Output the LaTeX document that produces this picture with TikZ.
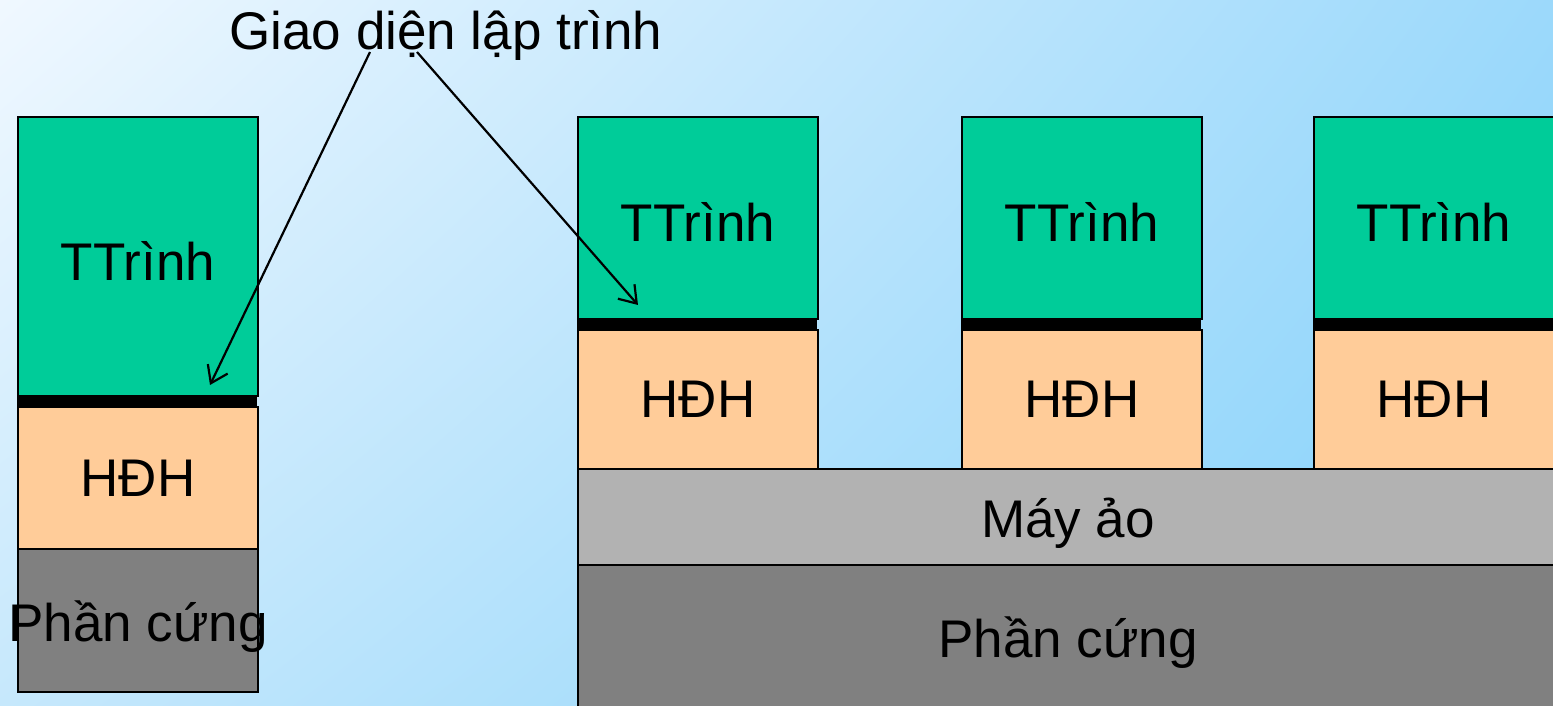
\documentclass[tikz,border=0pt]{standalone}
\usepackage{fontspec}
\setmainfont{Liberation Sans}
\usetikzlibrary{arrows.meta,shadings}
\definecolor{prog}{HTML}{00CC99}
\definecolor{os}{HTML}{FFCC99}
\definecolor{vm}{HTML}{B2B2B2}
\definecolor{hw}{HTML}{808080}
\definecolor{bgUL}{HTML}{F0F8FF}
\definecolor{bgUR}{HTML}{9CD9FB}
\definecolor{bgLL}{HTML}{C6E8FC}
\definecolor{bgLR}{HTML}{80D0FA}
\begin{document}
\begin{tikzpicture}[x=1pt,y=-1pt,
  box/.style={draw=black, line width=1.8pt, rectangle, inner sep=0pt, anchor=north west,
    minimum width=240pt, font=\fontsize{53}{60}\selectfont},
  prg/.style={box, fill=prog, text height=48pt, text depth=0pt},
  low/.style={box, text height=50pt, text depth=8pt},
  bar/.style={fill=black},
  ptr/.style={draw=black, line width=2.2pt, -{Straight Barb[length=16pt,width=22pt,line width=2.2pt]}}]
\useasboundingbox (0,0) rectangle (1553,706);
\begin{scope}[y=1pt]
\shade[upper left=bgUL, upper right=bgUR, lower left=bgLL, lower right=bgLR] (0,-706) rectangle (1553,0);
\end{scope}
% left stack
\node[prg, minimum height=279pt] (ttL) at (17,116) {TTrình};
\node[box, fill=os, minimum height=142pt] (hdhL) at (17,406) {HĐH};
\node[low, fill=hw, minimum height=143pt] (hwL) at (17,548) {\makebox[0pt]{Phần cứng}};
\fill[bar] (17,395) rectangle (257,406);
% right base
\node[low, fill=hw, minimum width=980pt, minimum height=144pt] (hwR) at (577,564) {Phần cứng};
\node[low, fill=vm, minimum width=980pt, minimum height=96pt] (vm) at (577,468) {Máy ảo};
% right stacks
\foreach \x/\n in {577/a, 961/b, 1313/c}{
  \node[prg, minimum height=202pt] (tt\n) at (\x,116) {TTrình};
  \node[box, fill=os, minimum height=139pt] (hdh\n) at (\x,329) {HĐH};
  \fill[bar] (\x,318) rectangle ++(240,11);
}
% label and pointers
\node[font=\fontsize{53}{60}\selectfont, inner sep=0pt] (api) at (446,35) {Giao diện lập trình};
\coordinate (s1) at (370,52);
\coordinate (s2) at (417,52);
\coordinate (e1) at (210,385);
\coordinate (e2) at (638,305);
\draw[ptr] (s1) -- (e1);
\draw[ptr] (s2) -- (e2);
\end{tikzpicture}
\end{document}
